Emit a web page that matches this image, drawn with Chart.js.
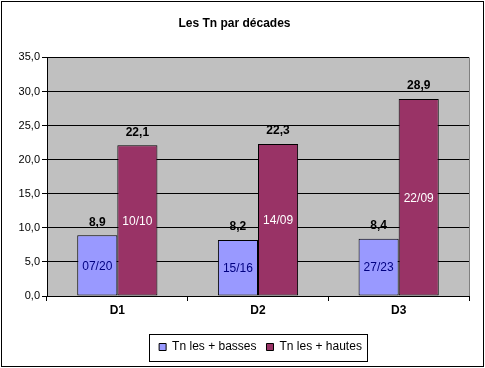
<!DOCTYPE html>
<html>
<head>
<meta charset="utf-8">
<script src="https://cdn.jsdelivr.net/npm/chart.js@4/dist/chart.umd.min.js"></script>
<style>
  html, body { margin: 0; padding: 0; background: #fff; }
  #wrap { width: 485px; height: 368px; }
</style>
</head>
<body>
<div id="wrap"><canvas id="myChart" width="485" height="368"></canvas></div>
<script>
const categories = ['D1', 'D2', 'D3'];
const seriesNames = ['Tn les + basses', 'Tn les + hautes'];
const lowValues = [8.9, 8.2, 8.4];
const highValues = [22.1, 22.3, 28.9];
const lowDates = ['07/20', '15/16', '27/23'];
const highDates = ['10/10', '14/09', '22/09'];

const FONT = 'Arial, "Liberation Sans", sans-serif';
const fmt = v => v.toFixed(1).replace('.', ',');

// grey plot area, outer frame, value + date labels, legend frame
const excelLook = {
  id: 'excelLook',
  afterLayout(chart) {
    // the legend sits under the plot area, not under the whole canvas
    chart.legend.left += 26;
    chart.legend.right += 26;
  },
  beforeDraw(chart) {
    const ctx = chart.ctx;
    const a = chart.chartArea;
    ctx.save();
    ctx.fillStyle = '#fff';
    ctx.fillRect(0, 0, chart.width, chart.height);
    ctx.fillStyle = '#C0C0C0';
    ctx.fillRect(a.left, a.top, a.right - a.left, a.bottom - a.top);
    ctx.restore();
  },
  afterDatasetsDraw(chart) {
    const ctx = chart.ctx;
    const a = chart.chartArea;
    ctx.save();
    // right edge of the plot area
    ctx.strokeStyle = '#808080';
    ctx.lineWidth = 1;
    ctx.beginPath();
    ctx.moveTo(Math.round(a.right) + 0.5, a.top);
    ctx.lineTo(Math.round(a.right) + 0.5, a.bottom);
    ctx.stroke();

    const dates = [lowDates, highDates];
    const inner = ['#000080', '#ffffff'];
    chart.data.datasets.forEach((ds, i) => {
      chart.getDatasetMeta(i).data.forEach((bar, j) => {
        ctx.textAlign = 'center';
        ctx.textBaseline = 'middle';
        ctx.font = 'bold 12px ' + FONT;
        ctx.fillStyle = '#000';
        ctx.fillText(fmt(ds.data[j]), bar.x, bar.y - 13);
        ctx.font = '12px ' + FONT;
        ctx.fillStyle = inner[i];
        ctx.fillText(dates[i][j], bar.x, (bar.y + bar.base) / 2 + 1);
      });
    });
    ctx.restore();
  },
  afterDraw(chart) {
    const ctx = chart.ctx;
    ctx.save();
    ctx.strokeStyle = '#000';
    ctx.lineWidth = 1;
    const boxes = chart.legend.legendHitBoxes;
    if (boxes && boxes.length) {
      const l = Math.min(...boxes.map(b => b.left)) - 10;
      const r = Math.max(...boxes.map(b => b.left + b.width)) + 5;
      const mid = boxes[0].top + boxes[0].height / 2;
      ctx.strokeRect(Math.round(l) + 0.5, Math.round(mid - 13) + 0.5, Math.round(r - l), 27);
    }
    ctx.strokeRect(1.5, 1.5, chart.width - 3, chart.height - 3);
    ctx.restore();
  }
};

const data = {
  labels: categories,
  datasets: [
    {
      label: seriesNames[0],
      data: lowValues,
      backgroundColor: '#9999FF',
      borderColor: '#000',
      borderWidth: 1,
      borderSkipped: false
    },
    {
      label: seriesNames[1],
      data: highValues,
      backgroundColor: '#993366',
      borderColor: '#000',
      borderWidth: 1,
      borderSkipped: false
    }
  ]
};

const config = {
  type: 'bar',
  data: data,
  options: {
    responsive: false,
    animation: false,
    events: [],
    layout: { padding: { left: 0, right: 16, top: 0, bottom: 5 } },
    datasets: { bar: { categoryPercentage: 0.57, barPercentage: 1 } },
    scales: {
      x: {
        afterFit: s => { s.height = 35; },
        grid: { display: true, drawOnChartArea: false, offset: true, color: '#000', tickLength: 5 },
        border: { color: '#000' },
        ticks: { color: '#000', padding: 2, font: { family: FONT, size: 12, weight: 'bold' } }
      },
      y: {
        min: 0,
        max: 35,
        afterFit: s => { s.width = 47; },
        grid: { color: '#000', tickLength: 5 },
        border: { color: '#000' },
        ticks: { stepSize: 5, color: '#000', padding: 2, font: { family: FONT, size: 11 }, callback: v => fmt(v) }
      }
    },
    plugins: {
      title: {
        display: true,
        text: 'Les Tn par décades',
        color: '#000',
        font: { family: FONT, size: 12, weight: 'bold' },
        padding: { top: 16, bottom: 27 }
      },
      legend: {
        position: 'bottom',
        labels: { color: '#000', boxWidth: 7, boxHeight: 7, padding: 10, font: { family: FONT, size: 12 } }
      },
      tooltip: { enabled: false }
    }
  },
  plugins: [excelLook]
};

const myChart = new Chart(document.getElementById('myChart'), config);
</script>
</body>
</html>
